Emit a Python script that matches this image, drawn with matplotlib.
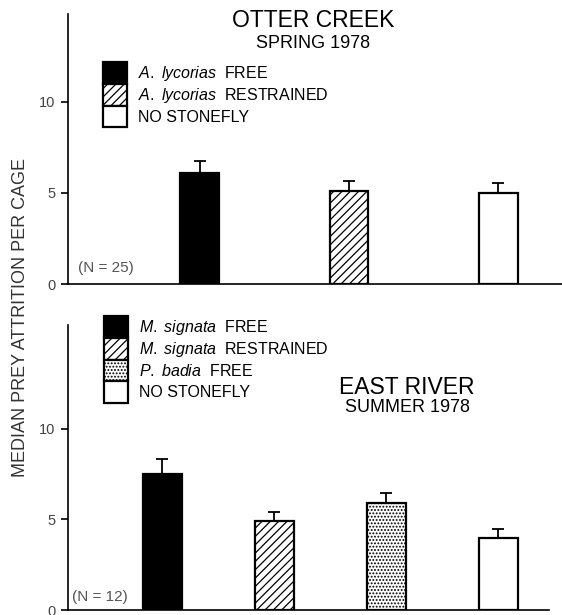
import matplotlib
matplotlib.use("Agg")
import matplotlib.pyplot as plt

plt.rcParams['font.family'] = ['Liberation Sans', 'DejaVu Sans']
plt.rcParams['mathtext.fontset'] = 'custom'
plt.rcParams['mathtext.it'] = 'Liberation Sans:italic'
plt.rcParams['mathtext.rm'] = 'Liberation Sans'
plt.rcParams['hatch.linewidth'] = 0.9

# Данные: Otter Creek, весна 1978
otter_labels = [r'$\it{A.\ lycorias}$  FREE',
                r'$\it{A.\ lycorias}$  RESTRAINED',
                'NO STONEFLY']
otter_median = [6.1, 5.1, 5.0]
otter_err = [0.65, 0.55, 0.55]

# Данные: East River, лето 1978
east_labels = [r'$\it{M.\ signata}$  FREE',
               r'$\it{M.\ signata}$  RESTRAINED',
               r'$\it{P.\ badia}$  FREE',
               'NO STONEFLY']
east_median = [7.5, 4.9, 5.9, 3.95]
east_err = [0.8, 0.5, 0.55, 0.5]

otter_style = [('black', None), ('white', '////'), ('white', None)]
east_style = [('black', None), ('white', '////'), ('white', '.....'), ('white', None)]


def draw_panel(ax, values, errs, labels, styles, width, xlim, ylim):
    pos = list(range(1, len(values) + 1))
    handles = []
    for p, v, e, lab, (fc, hatch) in zip(pos, values, errs, labels, styles):
        b = ax.bar(p, v, width=width, color=fc, edgecolor='black',
                   linewidth=1.6, hatch=hatch, label=lab, zorder=2)
        ax.errorbar(p, v, yerr=[[0], [e]], fmt='none', ecolor='black',
                    elinewidth=1.3, capsize=4, capthick=1.3, zorder=1)
        handles.append(b)
    ax.set_xlim(*xlim)
    ax.set_ylim(*ylim)
    ax.set_xticks([])
    ax.set_yticks([0, 5, 10])
    ax.tick_params(axis='y', direction='out', length=5, width=1.2,
                   labelsize=10.5, labelcolor='#444444', pad=4)
    for s in ['top', 'right']:
        ax.spines[s].set_visible(False)
    for s in ['left', 'bottom']:
        ax.spines[s].set_linewidth(1.2)
    return handles


def add_legend(ax, handles, anchor):
    ax.legend(handles=handles, loc='upper left', bbox_to_anchor=anchor,
              frameon=False, fontsize=11.5, handlelength=1.5, handleheight=1.71,
              labelspacing=0, borderpad=0, borderaxespad=0, handletextpad=0.69)


fig = plt.figure(figsize=(5.62, 6.15), dpi=100)

ax1 = fig.add_axes([0.121, 0.538, 0.879, 0.439])
h1 = draw_panel(ax1, otter_median, otter_err, otter_labels, otter_style,
                0.26, (0.12, 3.425), (0, 14.8))
add_legend(ax1, h1, (0.071, 0.822))
ax1.text(0.496, 0.978, 'OTTER CREEK', transform=ax1.transAxes,
         ha='center', va='center', fontsize=16.5)
ax1.text(0.496, 0.893, 'SPRING 1978', transform=ax1.transAxes,
         ha='center', va='center', fontsize=13)
ax1.text(0.02, 0.06, '(N = 25)', transform=ax1.transAxes,
         ha='left', va='center', fontsize=11, color='#555555')

ax2 = fig.add_axes([0.121, 0.008, 0.856, 0.4635])
h2 = draw_panel(ax2, east_median, east_err, east_labels, east_style,
                0.35, (0.156, 4.455), (0, 15.7))
add_legend(ax2, h2, (0.075, 1.03))
ax2.text(0.705, 0.782, 'EAST RIVER', transform=ax2.transAxes,
         ha='center', va='center', fontsize=16.5)
ax2.text(0.705, 0.709, 'SUMMER 1978', transform=ax2.transAxes,
         ha='center', va='center', fontsize=13)
ax2.text(0.008, 0.046, '(N = 12)', transform=ax2.transAxes,
         ha='left', va='center', fontsize=11, color='#555555')

fig.text(0.036, 0.483, 'MEDIAN PREY ATTRITION PER CAGE', rotation=90,
         ha='center', va='center', fontsize=13, color='#333333')

fig.savefig('out.png', dpi=100)
